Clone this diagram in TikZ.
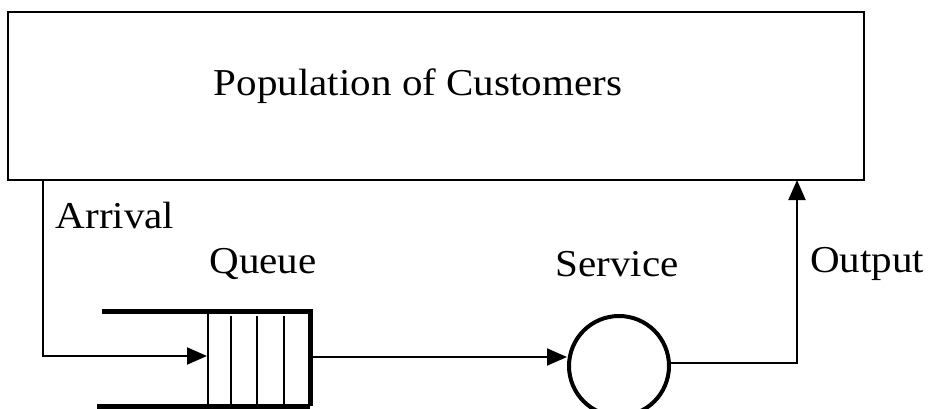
\documentclass[tikz,border=0pt]{standalone}
\usepackage{fontspec}
\setmainfont[FakeStretch=1.08]{Liberation Serif}
\usetikzlibrary{arrows.meta,calc}
\tikzset{
  label text/.style={font=\fontsize{38}{45}\selectfont, inner sep=0pt},
  thin line/.style={line width=2pt},
  arr/.style={thin line, -{Triangle[length=20pt,width=17pt]}},
  heavy/.style={line width=5pt},
}
\begin{document}
\begin{tikzpicture}[x=1pt,y=-1pt]
\useasboundingbox (0,0) rectangle (931,409);

% population box
\node (pop) [draw, line width=2.5pt, minimum width=856pt, minimum height=168pt,
  inner sep=0pt] at (436,96) {};
\node (poptext) [label text] at (418,86) {Population of Customers};

% queue slots
\node (queue) [draw, thin line, minimum width=101pt, minimum height=94pt,
  inner sep=0pt, anchor=south west] at (207,407) {};
\foreach \x in {231,257,284} \draw[thin line] (\x,316) -- (\x,407);
\draw[heavy] (102,311) -- (310,311) -- (310,406);
\draw[heavy] (97,406) -- (310,406);

% server
\node (service) [draw, circle, line width=4pt, minimum size=100pt, inner sep=0pt]
  at (619,366) {};

% labels
\node (arrival) [label text] at (115,216) {Arrival};
\node (qlabel) [label text] at (263,264) {Queue};
\node (slabel) [label text] at (617,264) {Service};
\node (olabel) [label text] at (867,264) {Output};

% connectors
\coordinate (arrtop) at ($(pop.south west)+(36,0)$);
\coordinate (arrin) at (207,356);
\draw[arr] (arrtop) |- (arrin);
\draw[arr] (queue.east |- 0,357) -- (service.west |- 0,357);
\coordinate (outtop) at (797,180);
\draw[arr] (service.east |- 0,363) -| (outtop);
\end{tikzpicture}
\end{document}
